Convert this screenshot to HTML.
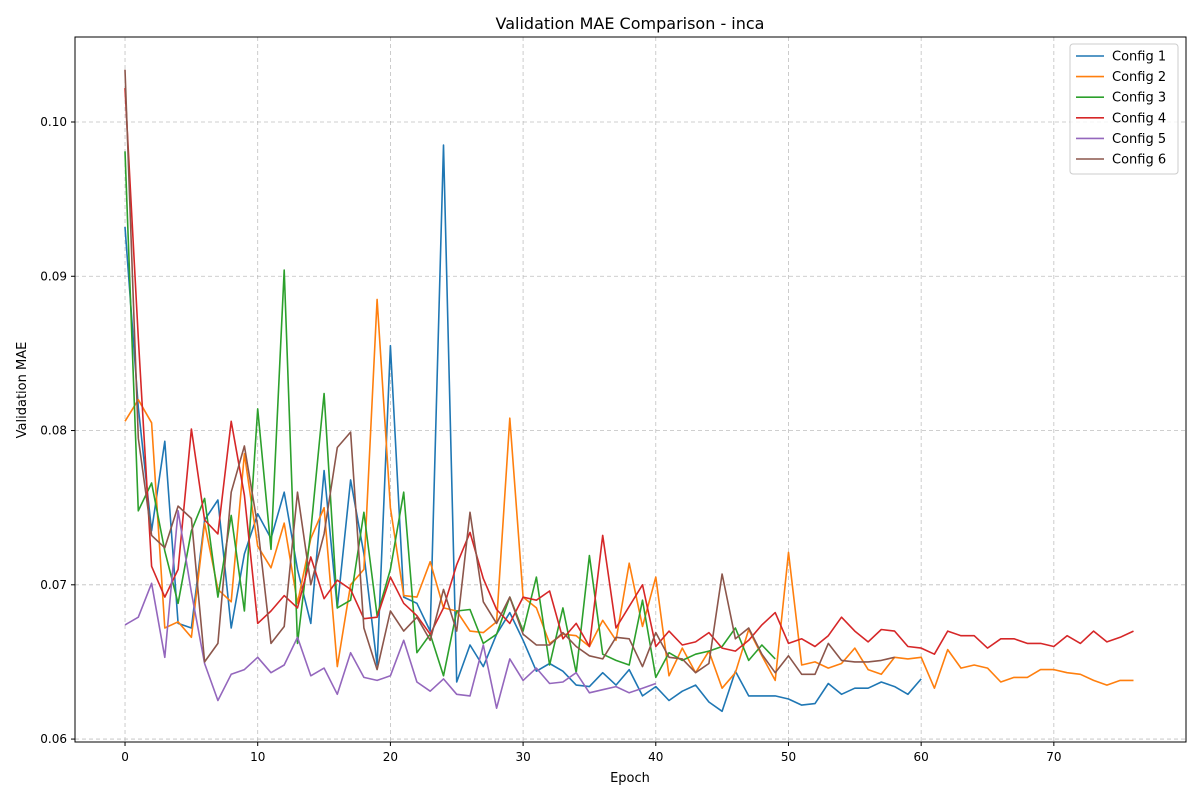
<!DOCTYPE html>
<html><head><meta charset="utf-8"><style>
body{margin:0;background:#fff;font-family:"Liberation Sans","DejaVu Sans",sans-serif}
svg text{font-family:"DejaVu Sans","Liberation Sans",sans-serif}
</style></head><body>
<svg id="chart" width="1200" height="800" xmlns="http://www.w3.org/2000/svg">
<rect width="1200" height="800" fill="#fff"/>
<text x="630" y="29" font-size="16" text-anchor="middle">Validation MAE Comparison - inca</text>
<g id="grid"></g><g id="series"></g>
<rect x="75" y="37" width="1111" height="705" fill="none" stroke="#000" stroke-width="1"/>
<g id="axes"></g>
<text x="630" y="782" font-size="13" text-anchor="middle">Epoch</text>
<text transform="translate(26,390) rotate(-90)" font-size="13" text-anchor="middle">Validation MAE</text>
<g id="legend"></g>
</svg>
<script>
const seriesNames=["Config 1","Config 2","Config 3","Config 4","Config 5","Config 6"];
const seriesColors=["#1f77b4","#ff7f0e","#2ca02c","#d62728","#9467bd","#8c564b"];
const xTicks=[0,10,20,30,40,50,60,70];
const yTicks=[0.06,0.07,0.08,0.09,0.10];
const config1=[.0932,.0815,.0735,.0793,.0675,.0672,.0742,.0755,.0672,.0720,.0746,.0730,.0760,.0710,.0675,.0774,.0685,.0768,.0720,.0648,.0855,.0692,.0688,.0670,.0985,.0637,.0661,.0647,.0668,.0682,.0664,.0644,.0649,.0644,.0635,.0634,.0643,.0635,.0645,.0628,.0634,.0625,.0631,.0635,.0624,.0618,.0644,.0628,.0628,.0628,.0626,.0622,.0623,.0636,.0629,.0633,.0633,.0637,.0634,.0629,.0639];
const config2=[.0806,.0820,.0805,.0672,.0676,.0666,.0740,.0697,.0689,.0785,.0725,.0711,.0740,.0688,.0730,.0750,.0647,.0700,.0710,.0885,.0750,.0693,.0692,.0715,.0685,.0683,.0670,.0669,.0676,.0808,.0692,.0685,.0662,.0668,.0667,.0660,.0677,.0664,.0714,.0673,.0705,.0641,.0659,.0643,.0657,.0633,.0643,.0671,.0654,.0638,.0721,.0648,.0650,.0646,.0649,.0659,.0645,.0642,.0653,.0652,.0653,.0633,.0658,.0646,.0648,.0646,.0637,.0640,.0640,.0645,.0645,.0643,.0642,.0638,.0635,.0638,.0638];
const config3=[.0981,.0748,.0766,.0722,.0688,.0735,.0756,.0692,.0745,.0683,.0814,.0723,.0904,.0662,.0735,.0824,.0685,.0690,.0747,.0680,.0710,.0760,.0656,.0668,.0641,.0683,.0684,.0662,.0668,.0692,.0670,.0705,.0648,.0685,.0643,.0719,.0655,.0651,.0648,.0690,.0640,.0656,.0651,.0655,.0657,.0660,.0672,.0651,.0661,.0652];
const config4=[.1022,.0860,.0712,.0692,.0710,.0801,.0742,.0733,.0806,.0758,.0675,.0683,.0693,.0685,.0718,.0691,.0703,.0697,.0678,.0679,.0705,.0688,.0680,.0668,.0685,.0713,.0734,.0704,.0684,.0675,.0692,.0690,.0696,.0665,.0675,.0660,.0732,.0672,.0686,.0700,.0660,.0670,.0661,.0663,.0669,.0659,.0657,.0664,.0674,.0682,.0662,.0665,.0660,.0667,.0679,.0670,.0663,.0671,.0670,.0660,.0659,.0655,.0670,.0667,.0667,.0659,.0665,.0665,.0662,.0662,.0660,.0667,.0662,.0670,.0663,.0666,.0670];
const config5=[.0674,.0679,.0701,.0653,.0748,.0695,.0649,.0625,.0642,.0645,.0653,.0643,.0648,.0666,.0641,.0646,.0629,.0656,.0640,.0638,.0641,.0664,.0637,.0631,.0639,.0629,.0628,.0661,.0620,.0652,.0638,.0646,.0636,.0637,.0643,.0630,.0632,.0634,.0630,.0633,.0636];
const config6=[.1034,.0795,.0732,.0724,.0751,.0743,.0650,.0662,.0760,.0790,.0738,.0662,.0673,.0760,.0700,.0733,.0789,.0799,.0672,.0645,.0683,.0670,.0679,.0664,.0697,.0670,.0747,.0689,.0675,.0692,.0668,.0661,.0661,.0669,.0660,.0654,.0652,.0666,.0665,.0647,.0669,.0653,.0652,.0643,.0649,.0707,.0665,.0672,.0655,.0643,.0654,.0642,.0642,.0662,.0651,.0650,.0650,.0651,.0653];
const allSeries=[config1,config2,config3,config4,config5,config6];
const NS="http://www.w3.org/2000/svg";
const X0=75,X1=1186,Y0=37,Y1=742;
const xMin=-3.77,xMax=79.96,yMin=0.05981,yMax=0.10551;
function xs(e){return X0+(e-xMin)/(xMax-xMin)*(X1-X0);}
function ys(v){return Y1-(v-yMin)/(yMax-yMin)*(Y1-Y0);}
function mk(tag,attrs,parent){const el=document.createElementNS(NS,tag);for(const k in attrs)el.setAttribute(k,attrs[k]);parent.appendChild(el);return el;}
const grid=document.getElementById('grid'),axes=document.getElementById('axes'),ser=document.getElementById('series'),leg=document.getElementById('legend');
xTicks.forEach(t=>{const x=xs(t);
 const g=mk('line',{x1:x,x2:x,y1:Y0,y2:Y1,stroke:'#b0b0b0','stroke-dasharray':'4,3','stroke-width':0.8,opacity:0.8},grid);
 
 const tk=mk('line',{x1:x,x2:x,y1:Y1,y2:Y1+4,stroke:'#000'},axes);
 
 const tx=mk('text',{x:x,y:Y1+19,'font-size':12,'text-anchor':'middle'},axes);tx.textContent=t;
 });
yTicks.forEach(t=>{const y=ys(t);
 const g=mk('line',{x1:X0,x2:X1,y1:y,y2:y,stroke:'#b0b0b0','stroke-dasharray':'4,3','stroke-width':0.8,opacity:0.8},grid);
 
 const tk=mk('line',{x1:X0-4,x2:X0,y1:y,y2:y,stroke:'#000'},axes);
 
 const tx=mk('text',{x:X0-8,y:y+4,'font-size':12,'text-anchor':'end'},axes);tx.textContent=t.toFixed(2);
 });
allSeries.forEach((d,i)=>{const pts=d.map((v,e)=>xs(e).toFixed(1)+','+ys(v).toFixed(1)).join(' ');
 const p=mk('polyline',{points:pts,fill:'none',stroke:seriesColors[i],'stroke-width':1.6,'stroke-linejoin':'round'},ser);
 });
const lb=mk('rect',{x:1070,y:44,width:108,height:130,rx:3,fill:'#fff','fill-opacity':0.8,stroke:'#ccc'},leg);

seriesNames.forEach((n,i)=>{const y=56+i*20.6;
 const l=mk('line',{x1:1076,x2:1104,y1:y,y2:y,stroke:seriesColors[i],'stroke-width':1.6},leg);
 
 const t=mk('text',{x:1112,y:y+4.5,'font-size':13},leg);t.textContent=n;
 });
</script>
</body></html>
